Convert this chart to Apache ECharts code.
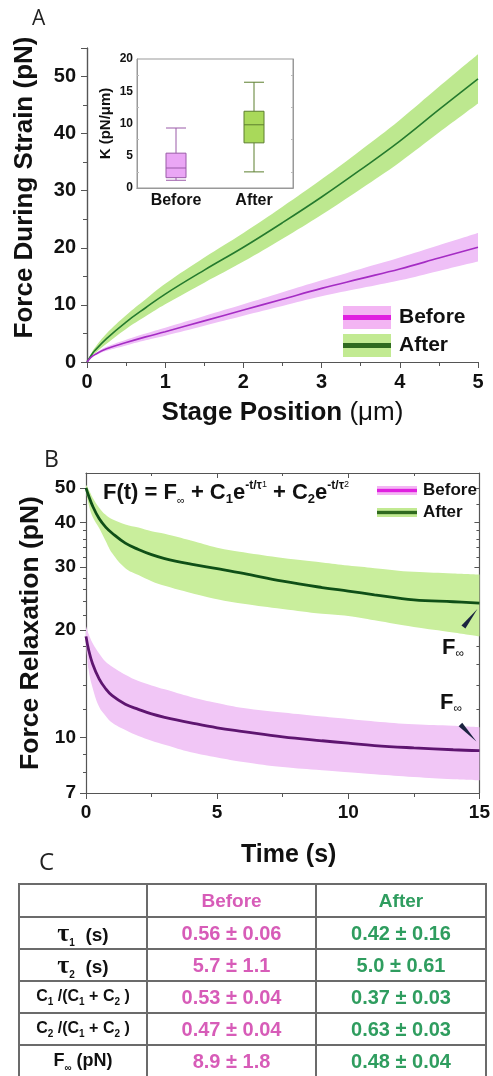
<!DOCTYPE html>
<html>
<head>
<meta charset="utf-8">
<script src="https://cdn.jsdelivr.net/npm/echarts@6.0.0/dist/echarts.min.js"></script>
<style>
  html, body { margin: 0; padding: 0; background: #fff; }
  #chart { position: absolute; left: 0; top: 0; width: 493px; height: 1076px; }
  #fit {
    position: absolute; left: 18px; top: 883px; width: 467px;
    border-collapse: collapse; table-layout: fixed;
    font-family: 'Liberation Sans', Arial, sans-serif; font-weight: bold;
  }
  #fit td { border: 2px solid #6b6b6b; text-align: center; vertical-align: middle; padding: 0; white-space: nowrap; }
  #fit .b { color: #d75cb8; font-size: 20px; }
  #fit .a { color: #2f9d5f; font-size: 20px; }
  #fit .hd { font-size: 19px; }
  #fit .p { color: #111; font-size: 19px; }
  #fit .p.small { font-size: 16px; }
  #fit .p.mid { font-size: 18px; }
  #fit .tau { font-family: 'Liberation Serif', serif; font-size: 26px; font-weight: bold; }
  #fit sub { font-size: 10px; }
</style>
</head>
<body>
<div id="chart"></div>
<table id="fit">
  <colgroup><col style="width:128px"><col style="width:169px"><col style="width:170px"></colgroup>
  <tbody id="fitBody"></tbody>
</table>
<script>
  // panel A: force while straining
  const strainPos = [0, 0.05, 0.1, 0.25, 0.5, 0.75, 1, 1.5, 2, 2.5, 3, 3.5, 4, 4.5, 5];
  const strainAfter = [0, 1.1, 2.0, 4.1, 7.0, 9.5, 11.9, 16.1, 20.1, 24.4, 28.9, 33.7, 38.7, 44.2, 49.6];
  const strainAfterSd = [0, 0.3, 0.5, 0.9, 1.2, 1.5, 1.8, 2.2, 2.5, 2.8, 3.1, 3.4, 3.7, 4.0, 4.3];
  const strainBefore = [0, 0.8, 1.3, 2.3, 3.4, 4.4, 5.3, 7.2, 9.1, 11.0, 12.9, 14.6, 16.3, 18.2, 20.1];
  const strainBeforeSd = [0, 0.15, 0.2, 0.35, 0.5, 0.6, 0.7, 0.85, 1.0, 1.2, 1.4, 1.7, 2.0, 2.25, 2.5];

  // inset: stiffness box plot [min, Q1, median, Q3, max]
  const kGroups = ['Before', 'After'];
  const kBox = [[1.2, 1.6, 3.1, 5.4, 9.3], [2.5, 7.0, 9.8, 11.9, 16.4]];

  // panel B: force relaxation
  const relaxTime = [0, 0.1, 0.25, 0.5, 0.75, 1, 1.5, 2, 2.5, 3, 4, 5, 6, 7.5, 9, 10, 11, 12.5, 14, 15];
  const relaxAfter = [50, 47.5, 44.5, 41, 38.8, 37.3, 35, 33.6, 32.5, 31.7, 30.6, 29.7, 28.8, 27.4, 26.3, 25.7, 25.1, 24.3, 24.0, 23.8];
  const relaxAfterHi = [51, 49.5, 47, 44, 42, 40.8, 39.5, 38.7, 37.8, 37.2, 35.6, 34.0, 33.0, 31.8, 30.9, 30.3, 29.8, 29.1, 28.8, 28.6];
  const relaxAfterLo = [49, 45, 41.5, 38.6, 35.5, 32.8, 29.8, 28.5, 27.4, 26.6, 25.4, 24.4, 23.7, 22.9, 22.2, 21.9, 21.3, 20.4, 19.7, 19.2];
  const relaxBefore = [19.2, 17.6, 16.1, 14.6, 13.7, 13.1, 12.4, 12.0, 11.65, 11.4, 11.0, 10.65, 10.4, 10.05, 9.8, 9.65, 9.5, 9.36, 9.25, 9.2];
  const relaxBeforeHi = [20.5, 19.5, 18.4, 17.2, 16.3, 15.8, 15.0, 14.4, 14.0, 13.65, 13.0, 12.5, 12.1, 11.75, 11.45, 11.27, 11.1, 10.9, 10.8, 10.7];
  const relaxBeforeLo = [18.5, 15.5, 13.8, 12.2, 11.5, 11.0, 10.5, 10.1, 9.8, 9.55, 9.1, 8.8, 8.55, 8.27, 8.1, 8.0, 7.9, 7.76, 7.65, 7.6];
  const relaxTicks = [7, 10, 20, 30, 40, 50];
  const relaxMinorTicks = [8, 9, 12, 14, 16, 18, 22, 24, 26, 28, 32, 34, 36, 38, 45];

  // panel C: fit table
  const paramNames = [
    '<span class="tau">τ</span><sub>1</sub>&nbsp; (s)',
    '<span class="tau">τ</span><sub>2</sub>&nbsp; (s)',
    'C<sub>1</sub> /(C<sub>1</sub> + C<sub>2</sub> )',
    'C<sub>2</sub> /(C<sub>1</sub> + C<sub>2</sub> )',
    'F<sub>∞</sub> (pN)'
  ];
  const paramClass = ['p', 'p', 'p small', 'p small', 'p mid'];
  const beforeFit = ['0.56 ± 0.06', '5.7 ± 1.1', '0.53 ± 0.04', '0.47 ± 0.04', '8.9 ± 1.8'];
  const afterFit = ['0.42 ± 0.16', '5.0 ± 0.61', '0.37 ± 0.03', '0.63 ± 0.03', '0.48 ± 0.04'];
  const rowHeights = [31, 31, 32, 32, 33];

  const font = "'Liberation Sans', Arial, sans-serif";
  const lg = v => Math.log10(v);
  const axisColor = '#555';

  let rows = '<tr style="height:33px"><td></td><td class="hd" style="color:#d75cb8">Before</td><td class="hd" style="color:#2f9d5f">After</td></tr>';
  paramNames.forEach((p, i) => {
    rows += '<tr style="height:' + rowHeights[i] + 'px"><td class="' + paramClass[i] + '">' + p +
      '</td><td class="b">' + beforeFit[i] + '</td><td class="a">' + afterFit[i] + '</td></tr>';
  });
  document.getElementById('fitBody').innerHTML = rows;

  function bandIcon(band, line, h, lw) {
    const svg = "<svg xmlns='http://www.w3.org/2000/svg' width='48' height='" + h + "'>" +
      "<rect width='48' height='" + h + "' fill='" + band + "'/>" +
      "<rect y='" + (h - lw) / 2 + "' width='48' height='" + lw + "' fill='" + line + "'/></svg>";
    return 'image://data:image/svg+xml;charset=utf-8,' + encodeURIComponent(svg);
  }

  function pairs(xs, ys, f) {
    return xs.map((x, i) => [x, f ? f(ys[i]) : ys[i]]);
  }

  // rows are [value, x] so that the stacked dimension is the y value
  function bandSeries(name, stack, xi, yi, xs, lo, hi, color) {
    return [
      {
        name: stack + 'lo', type: 'line', xAxisIndex: xi, yAxisIndex: yi, stack: stack,
        encode: { x: 1, y: 0 },
        data: xs.map((x, i) => [lo[i], x]), symbol: 'none', smooth: 0.4, silent: true,
        lineStyle: { opacity: 0 }, z: 1
      },
      {
        name: name, type: 'line', xAxisIndex: xi, yAxisIndex: yi, stack: stack,
        encode: { x: 1, y: 0 },
        data: xs.map((x, i) => [hi[i] - lo[i], x]), symbol: 'none', smooth: 0.4, silent: true,
        lineStyle: { opacity: 0 }, areaStyle: { color: color, opacity: 1 }, z: 1
      }
    ];
  }

  const tickLbl = (size) => ({ fontSize: size, fontWeight: 'bold', fontFamily: font, color: '#111' });
  const line = { show: true, lineStyle: { color: axisColor, width: 1.2 } };

  const chart = echarts.init(document.getElementById('chart'));

  const option = {
    animation: false,
    backgroundColor: '#fff',
    grid: [
      { left: 87, top: 48, width: 391, height: 314 },
      { left: 137, top: 59, width: 156, height: 129, show: true, backgroundColor: '#fff', borderColor: '#999', borderWidth: 1, z: 5 },
      { left: 86, top: 473, width: 397, height: 320 }
    ],
    xAxis: [
      {
        gridIndex: 0, type: 'value', min: 0, max: 5, interval: 1, position: 'bottom',
        axisLine: line, axisTick: { length: 6, lineStyle: { color: axisColor } },
        minorTick: { show: true, splitNumber: 2, length: 4, lineStyle: { color: axisColor } },
        splitLine: { show: false }, axisLabel: Object.assign({ margin: 10 }, tickLbl(20)),
        name: '{b|Stage Position }{n|(μm)}', nameLocation: 'middle', nameGap: 38,
        nameTextStyle: { rich: {
          b: { fontSize: 26, fontWeight: 'bold', fontFamily: font, color: '#111' },
          n: { fontSize: 26, fontWeight: 'normal', fontFamily: font, color: '#111' }
        } }
      },
      {
        gridIndex: 0, type: 'value', min: 0, max: 5, interval: 1, position: 'top',
        axisLine: line, axisTick: { inside: true, length: 5, lineStyle: { color: axisColor } },
        minorTick: { show: true, splitNumber: 2, length: 3, lineStyle: { color: axisColor } },
        splitLine: { show: false }, axisLabel: { show: false }
      },
      {
        gridIndex: 1, type: 'category', data: kGroups, position: 'bottom',
        axisLine: { show: true, lineStyle: { color: '#999' } },
        axisTick: { alignWithLabel: true, inside: true, length: 3, lineStyle: { color: '#999' } },
        axisLabel: Object.assign({ margin: 5 }, tickLbl(16)), z: 6
      },
      {
        gridIndex: 1, type: 'category', data: kGroups, position: 'top',
        axisLine: { show: true, lineStyle: { color: '#999' } },
        axisTick: { alignWithLabel: true, inside: true, length: 3, lineStyle: { color: '#999' } },
        axisLabel: { show: false }, z: 6
      },
      {
        gridIndex: 2, type: 'value', min: 0, max: 15, interval: 5, position: 'bottom',
        axisLine: line, axisTick: { length: 6, lineStyle: { color: axisColor } },
        minorTick: { show: true, splitNumber: 2, length: 4, lineStyle: { color: axisColor } },
        splitLine: { show: false }, axisLabel: Object.assign({ margin: 10 }, tickLbl(19)),
        name: 'Time (s)', nameLocation: 'middle', nameGap: 50,
        nameTextStyle: { fontSize: 25, fontWeight: 'bold', fontFamily: font, color: '#111', padding: [0, 0, 0, 12] }
      },
      {
        gridIndex: 2, type: 'value', min: 0, max: 15, interval: 5, position: 'top',
        axisLine: line, axisTick: { inside: true, length: 5, lineStyle: { color: axisColor } },
        minorTick: { show: true, splitNumber: 2, length: 3, lineStyle: { color: axisColor } },
        splitLine: { show: false }, axisLabel: { show: false }
      }
    ],
    yAxis: [
      {
        gridIndex: 0, type: 'value', min: 0, max: 55, interval: 10, position: 'left',
        axisLine: line, axisTick: { length: 6, lineStyle: { color: axisColor } },
        minorTick: { show: true, splitNumber: 2, length: 4, lineStyle: { color: axisColor } },
        splitLine: { show: false },
        axisLabel: Object.assign({ margin: 11, formatter: v => (v > 50 ? '' : v) }, tickLbl(20)),
        name: 'Force During Strain (pN)', nameLocation: 'middle', nameGap: 49,
        nameTextStyle: { fontSize: 26, fontWeight: 'bold', fontFamily: font, color: '#111', padding: [0, 0, 0, 35] }
      },
      {
        gridIndex: 0, type: 'value', min: 0, max: 55, interval: 10, position: 'right',
        axisLine: line, axisTick: { inside: true, length: 5, lineStyle: { color: axisColor } },
        minorTick: { show: true, splitNumber: 2, length: 3, lineStyle: { color: axisColor } },
        splitLine: { show: false }, axisLabel: { show: false }
      },
      {
        gridIndex: 1, type: 'value', min: 0, max: 20, interval: 5, position: 'left',
        axisLine: { show: true, lineStyle: { color: '#999' } },
        axisTick: { inside: true, length: 3, lineStyle: { color: '#999' } },
        minorTick: { show: true, splitNumber: 2, length: 2, lineStyle: { color: '#bbb' } },
        splitLine: { show: false }, axisLabel: Object.assign({ margin: 4 }, tickLbl(12)),
        name: 'K (pN/μm)', nameLocation: 'middle', nameGap: 24,
        nameTextStyle: { fontSize: 15, fontWeight: 'bold', fontFamily: font, color: '#111' }, z: 6
      },
      {
        gridIndex: 1, type: 'value', min: 0, max: 20, interval: 5, position: 'right',
        axisLine: { show: true, lineStyle: { color: '#999' } },
        axisTick: { inside: true, length: 3, lineStyle: { color: '#999' } },
        minorTick: { show: true, splitNumber: 2, length: 2, lineStyle: { color: '#bbb' } },
        splitLine: { show: false }, axisLabel: { show: false }, z: 6
      },
      {
        gridIndex: 2, type: 'value', min: lg(7), max: lg(55), position: 'left',
        axisLine: line,
        axisTick: { length: 6, customValues: relaxTicks.map(lg), lineStyle: { color: axisColor } },
        splitLine: { show: false },
        axisLabel: Object.assign({ margin: 10, customValues: relaxTicks.map(lg), formatter: v => String(Math.round(Math.pow(10, v))) }, tickLbl(19)),
        name: 'Force Relaxation (pN)', nameLocation: 'middle', nameGap: 41,
        nameTextStyle: { fontSize: 26.5, fontWeight: 'bold', fontFamily: font, color: '#111' }
      },
      {
        gridIndex: 2, type: 'value', min: lg(7), max: lg(55), position: 'left',
        axisLine: { show: false },
        axisTick: { length: 3, customValues: relaxMinorTicks.map(lg), lineStyle: { color: axisColor } },
        splitLine: { show: false }, axisLabel: { show: false }
      },
      {
        gridIndex: 2, type: 'value', min: lg(7), max: lg(55), position: 'right',
        axisLine: line,
        axisTick: { inside: true, length: 5, customValues: relaxTicks.map(lg), lineStyle: { color: axisColor } },
        splitLine: { show: false }, axisLabel: { show: false }
      },
      {
        gridIndex: 2, type: 'value', min: lg(7), max: lg(55), position: 'right',
        axisLine: { show: false },
        axisTick: { inside: true, length: 3, customValues: relaxMinorTicks.map(lg), lineStyle: { color: axisColor } },
        splitLine: { show: false }, axisLabel: { show: false }
      }
    ],
    legend: [
      {
        left: 338, top: 301, orient: 'vertical', itemWidth: 48, itemHeight: 23, itemGap: 5,
        selectedMode: false,
        textStyle: { fontSize: 21, fontWeight: 'bold', fontFamily: font, color: '#111', padding: [0, 0, 0, 3] },
        data: [
          { name: 'Before', icon: bandIcon('#f3b5f3', '#e020e0', 23, 5) },
          { name: 'After', icon: bandIcon('#c2ea92', '#2f6a1f', 23, 5) }
        ]
      },
      {
        left: 372, top: 477, orient: 'vertical', itemWidth: 40, itemHeight: 11, itemGap: 5,
        selectedMode: false,
        textStyle: { fontSize: 17, fontWeight: 'bold', fontFamily: font, color: '#111', padding: [0, 0, 0, 1] },
        data: [
          { name: 'Before', icon: bandIcon('#f3b5f3', '#e020e0', 11, 4) },
          { name: 'After', icon: bandIcon('#c2ea92', '#2f6a1f', 11, 4) }
        ]
      }
    ],
    series: [
      ...bandSeries('After band A', 'sA', 0, 0, strainPos,
        strainAfter.map((v, i) => v - strainAfterSd[i]), strainAfter.map((v, i) => v + strainAfterSd[i]), '#bde88f'),
      ...bandSeries('Before band A', 'sB', 0, 0, strainPos,
        strainBefore.map((v, i) => Math.max(0, v - strainBeforeSd[i])), strainBefore.map((v, i) => v + strainBeforeSd[i]), '#efc0f7'),
      {
        name: 'After', type: 'line', xAxisIndex: 0, yAxisIndex: 0, data: pairs(strainPos, strainAfter),
        symbol: 'none', smooth: 0.4, lineStyle: { color: '#257a2e', width: 1.6 }, itemStyle: { color: '#2f6a1f' }, z: 3
      },
      {
        name: 'Before', type: 'line', xAxisIndex: 0, yAxisIndex: 0, data: pairs(strainPos, strainBefore),
        symbol: 'none', smooth: 0.4, lineStyle: { color: '#a52cc4', width: 1.6 }, itemStyle: { color: '#e020e0' }, z: 3
      },
      {
        name: 'K', type: 'boxplot', xAxisIndex: 2, yAxisIndex: 2, boxWidth: [19, 20], z: 7,
        data: [
          { value: kBox[0], itemStyle: { color: '#eaa6f5', borderColor: '#9a5aa8', borderWidth: 1 } },
          { value: kBox[1], itemStyle: { color: '#a9d95a', borderColor: '#5c7f2e', borderWidth: 1 } }
        ]
      },
      ...bandSeries('After band B', 'rA', 4, 4, relaxTime, relaxAfterLo.map(lg), relaxAfterHi.map(lg), '#c9ee9c'),
      ...bandSeries('Before band B', 'rB', 4, 4, relaxTime, relaxBeforeLo.map(lg), relaxBeforeHi.map(lg), '#f1c6f6'),
      {
        name: 'After', type: 'line', xAxisIndex: 4, yAxisIndex: 4, data: pairs(relaxTime, relaxAfter, lg),
        symbol: 'none', smooth: 0.4, lineStyle: { color: '#0f4f17', width: 2.8 }, z: 3
      },
      {
        name: 'Before', type: 'line', xAxisIndex: 4, yAxisIndex: 4, data: pairs(relaxTime, relaxBefore, lg),
        symbol: 'none', smooth: 0.4, lineStyle: { color: '#5e1570', width: 2.8 }, z: 3
      }
    ]
  };

  chart.setOption(option);

  // annotations: panel letters, model formula, F-infinity arrows at the curve ends
  const last = relaxTime.length - 1;
  const endAfter = chart.convertToPixel({ gridIndex: 2 }, [relaxTime[last], lg(relaxAfter[last])]);
  const endBefore = chart.convertToPixel({ gridIndex: 2 }, [relaxTime[last], lg(relaxBefore[last])]);

  function wedge(tip, tail, w) {
    const dx = tail[0] - tip[0], dy = tail[1] - tip[1];
    const len = Math.sqrt(dx * dx + dy * dy);
    const nx = -dy / len * w, ny = dx / len * w;
    return [tip, [tail[0] + nx, tail[1] + ny], [tail[0] - nx, tail[1] - ny]];
  }

  const letter = (id, text, x, y, size) => ({
    type: 'text', id: id, x: x, y: y, z: 20,
    style: { text: text, fill: '#222', font: size + "px 'Open Sans', sans-serif", verticalAlign: 'top' }
  });
  const finf = (id, x, y) => ({
    type: 'text', id: id, x: x, y: y, z: 20,
    style: {
      text: '{f|F}{s|∞}', verticalAlign: 'top',
      rich: {
        f: { fontSize: 22, fontWeight: 'bold', fontFamily: font, fill: '#111', lineHeight: 24 },
        s: { fontSize: 12, fontFamily: font, fill: '#111', verticalAlign: 'bottom', lineHeight: 12 }
      }
    }
  });

  chart.setOption({
    graphic: [
      letter('la', 'A', 32, 9, 21),
      letter('lb', 'B', 44, 449, 23),
      letter('lc', 'C', 39, 851, 24),
      {
        type: 'text', id: 'formula', x: 103, y: 480, z: 20,
        style: {
          text: '{m|F(t) = F}{s|∞}{m| + C}{b|1}{m|e}{p|-t/τ}{q|1}{m| + C}{b|2}{m|e}{p|-t/τ}{q|2}',
          verticalAlign: 'top',
          rich: {
            m: { fontSize: 22, fontWeight: 'bold', fontFamily: font, fill: '#111', lineHeight: 26 },
            s: { fontSize: 11, fontFamily: font, fill: '#111', verticalAlign: 'bottom', lineHeight: 12 },
            b: { fontSize: 13, fontWeight: 'bold', fontFamily: font, fill: '#111', verticalAlign: 'bottom', lineHeight: 13 },
            p: { fontSize: 12, fontWeight: 'bold', fontFamily: font, fill: '#111', verticalAlign: 'top', lineHeight: 12 },
            q: { fontSize: 9, fontFamily: font, fill: '#111', verticalAlign: 'top', lineHeight: 20 }
          }
        }
      },
      finf('finfA', 442, 636),
      finf('finfB', 440, 691),
      {
        type: 'polygon', id: 'arrA', z: 20,
        shape: { points: wedge([endAfter[0] - 2, endAfter[1] + 6], [endAfter[0] - 16, endAfter[1] + 24], 2.5) },
        style: { fill: '#1b2440' }
      },
      {
        type: 'polygon', id: 'arrB', z: 20,
        shape: { points: wedge([endBefore[0] - 3, endBefore[1] - 9], [endBefore[0] - 19, endBefore[1] - 26], 2.5) },
        style: { fill: '#1b2440' }
      }
    ]
  });
</script>
</body>
</html>
